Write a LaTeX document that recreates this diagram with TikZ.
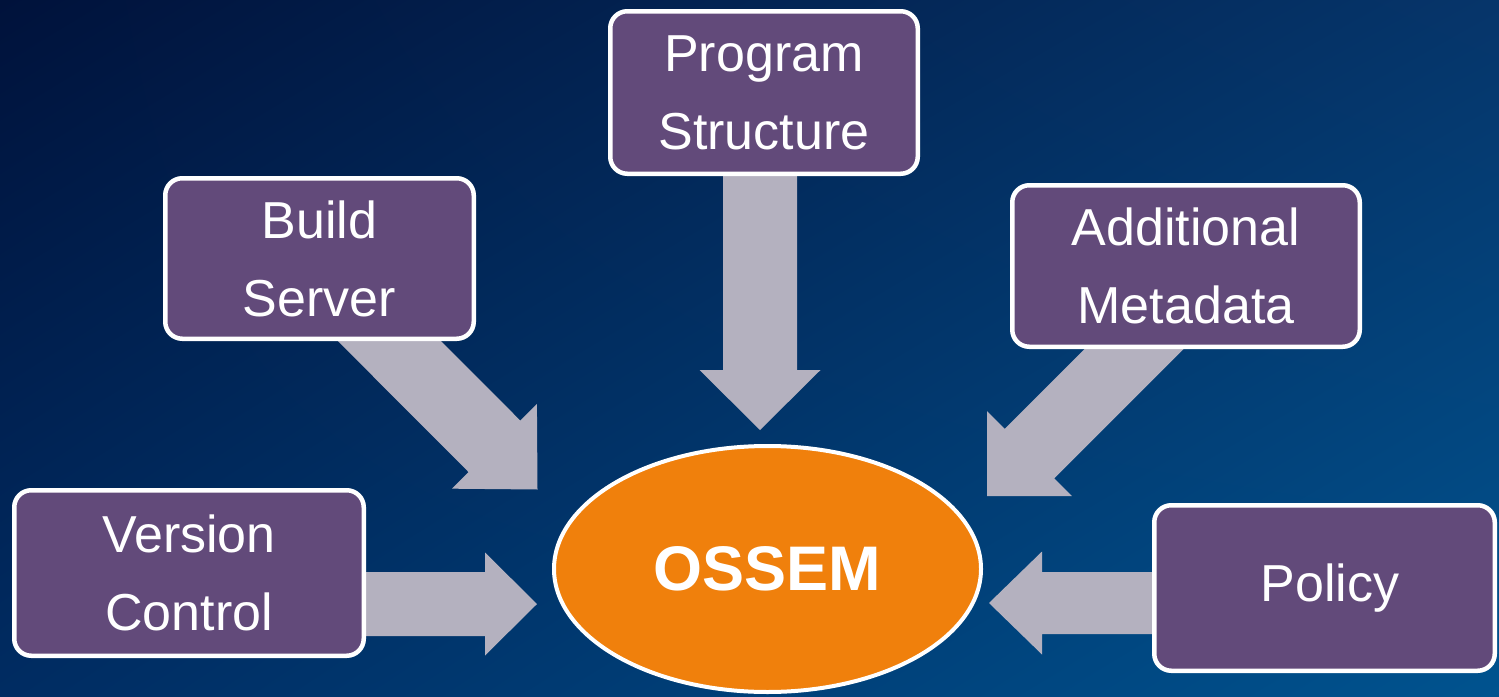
\documentclass[tikz,border=0pt]{standalone}
\usepackage{fontspec}
\setmainfont{Liberation Sans}
\usetikzlibrary{shapes.geometric,calc,shadings}
\definecolor{bgTL}{HTML}{00123B}
\definecolor{bgTR}{HTML}{06356A}
\definecolor{bgBL}{HTML}{002C62}
\definecolor{bgBR}{HTML}{00538F}
\definecolor{boxpurple}{HTML}{624A7A}
\definecolor{coreorange}{HTML}{F0800C}
\definecolor{arrowgrey}{HTML}{B4B1BF}
\pgfdeclarelayer{back}
\pgfsetlayers{back,main}
\tikzset{
  box/.style={draw=white, line width=4.5pt, fill=boxpurple, rounded corners=17pt,
    text=white, align=center, font=\fontsize{52}{78}\selectfont, inner sep=0pt},
  core/.style={ellipse, draw=white, line width=4pt, fill=coreorange, text=white,
    font=\fontsize{63}{70}\selectfont\bfseries, inner sep=0pt},
  blockfill/.style={fill=arrowgrey},
}
% #1 start coordinate, #2 tip coordinate, #3 half shaft width, #4 half head width, #5 head length
\newcommand{\blockarrow}[5]{%
  \path (#2) coordinate (ba-tip) ($(#2)!#5!(#1)$) coordinate (ba-base);
  \fill[blockfill] ($(#1)!#3!90:(ba-tip)$) -- ($(ba-base)!#3!90:(ba-tip)$)
    -- ($(ba-base)!#4!90:(ba-tip)$) -- (ba-tip) -- ($(ba-base)!#4!-90:(ba-tip)$)
    -- ($(ba-base)!#3!-90:(ba-tip)$) -- ($(#1)!#3!-90:(ba-tip)$) -- cycle;
}
\begin{document}
\begin{tikzpicture}[x=1pt,y=-1pt]
\useasboundingbox (0,0) rectangle (1499,696);
\begin{pgfonlayer}{back}
  \shade[upper left=bgTL, upper right=bgTR, lower left=bgBL, lower right=bgBR]
    (0,0) rectangle (1499,696);
\end{pgfonlayer}

\node[box, minimum width=307.5pt, minimum height=162.5pt] (ps) at (764,92.5) {Program\\Structure};
\node[box, minimum width=308.5pt, minimum height=160.5pt] (bs) at (319.5,258.5) {Build\\Server};
\node[box, minimum width=347.5pt, minimum height=161.5pt] (am) at (1186,266) {Additional\\Metadata};
\node[box, minimum width=349.5pt, minimum height=165.5pt] (vc) at (189,573) {Version\\Control};
\node[box, minimum width=340.5pt, minimum height=165.5pt] (po) at (1324.5,588) {\hspace*{11pt}Policy};
\node[core, minimum width=427pt, minimum height=246pt] (os) at (767.5,569) {OSSEM};

\coordinate (psS) at ($(ps.south)+(-4,-60)$);
\coordinate (psT) at (760,430);
\coordinate (bsS) at ($(bs.south)+(29,-41)$);
\coordinate (bsT) at (537.5,489.5);
\coordinate (amS) at ($(am.south)+(-13,-39)$);
\coordinate (amT) at (987,496);
\coordinate (vcS) at ($(vc.east)+(-60,31)$);
\coordinate (vcT) at (537,604);
\coordinate (poS) at ($(po.west)+(98,15)$);
\coordinate (poT) at (989,603);

\begin{pgfonlayer}{back}
  \blockarrow{psS}{psT}{37pt}{60.5pt}{60pt}
  \blockarrow{bsS}{bsT}{36.5pt}{60pt}{61pt}
  \blockarrow{amS}{amT}{35pt}{60pt}{60pt}
  \blockarrow{vcS}{vcT}{32pt}{51.5pt}{52pt}
  \blockarrow{poS}{poT}{31pt}{51.5pt}{53pt}
\end{pgfonlayer}
\end{tikzpicture}
\end{document}
